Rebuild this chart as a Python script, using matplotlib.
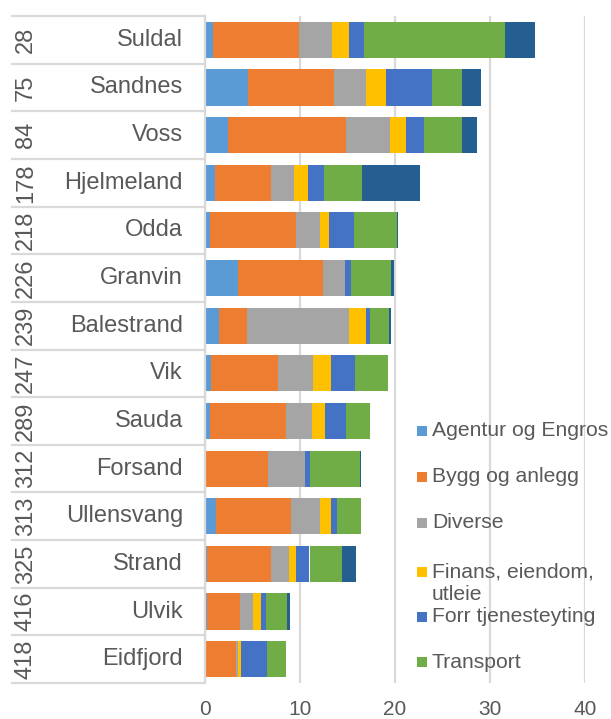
import matplotlib
matplotlib.use("Agg")
import matplotlib.pyplot as plt
import matplotlib.transforms as mtransforms
from matplotlib.patches import Rectangle
import numpy as np

plt.rcParams['font.family'] = ['Liberation Sans', 'DejaVu Sans']

ranks = ["28", "75", "84", "178", "218", "226", "239", "247", "289", "312", "313", "325", "416", "418"]
municipalities = ["Suldal", "Sandnes", "Voss", "Hjelmeland", "Odda", "Granvin", "Balestrand",
                  "Vik", "Sauda", "Forsand", "Ullensvang", "Strand", "Ulvik", "Eidfjord"]

series_names = ["Agentur og Engros", "Bygg og anlegg", "Diverse", "Finans, eiendom, utleie",
                "Forr tjenesteyting", "Transport", "Annet"]

agentur =    [0.88, 4.56, 2.41, 1.02, 0.49, 3.51, 1.51, 0.65, 0.57, 0.00, 1.19, 0.25, 0.25, 0.00]
bygg =       [9.05, 8.98, 12.44, 5.97, 9.12, 8.91, 2.95, 7.08, 7.94, 6.67, 7.81, 6.66, 3.47, 3.30]
diverse =    [3.47, 3.40, 4.66, 2.37, 2.45, 2.32, 10.67, 3.64, 2.78, 3.86, 3.07, 1.88, 1.31, 0.14]
finans =     [1.75, 2.14, 1.64, 1.47, 0.98, 0.00, 1.82, 1.88, 1.35, 0.00, 1.18, 0.82, 0.90, 0.32]
forr =       [1.58, 4.81, 1.92, 1.72, 2.62, 0.60, 0.46, 2.58, 2.21, 0.56, 0.66, 1.39, 0.53, 2.77]
transport =  [14.80, 3.16, 4.01, 4.00, 4.50, 4.21, 2.00, 3.39, 2.53, 5.19, 2.49, 3.44, 2.21, 2.04]
annet =      [3.16, 2.04, 1.51, 6.10, 0.20, 0.39, 0.14, 0.00, 0.00, 0.14, 0.00, 1.43, 0.29, 0.00]

colors = ["#5B9BD5", "#ED7D31", "#A5A5A5", "#FFC000", "#4472C4", "#70AD47", "#255E91"]
x_ticks = [0, 10, 20, 30, 40]

W, H = 611, 719
fig = plt.figure(figsize=(W / 100, H / 100), dpi=100)
ax_left, ax_right, ax_top, ax_bottom = 205, 585, 16, 683
ax = fig.add_axes([ax_left / W, 1 - ax_bottom / H, (ax_right - ax_left) / W, (ax_bottom - ax_top) / H])

text_color = "#595959"
grid_color = "#D9D9D9"

y = np.arange(len(municipalities))
left = np.zeros(len(municipalities))
for vals, c, name in zip([agentur, bygg, diverse, finans, forr, transport, annet], colors, series_names):
    vals = np.array(vals)
    ax.barh(y, vals, left=left, height=0.76, color=c, linewidth=0, label=name, zorder=3)
    left += vals

ax.set_xlim(0, 40)
ax.set_ylim(len(municipalities) - 0.5, -0.5)
ax.set_xticks(x_ticks)
ax.set_xticklabels([str(t) for t in x_ticks], fontsize=15, color=text_color)
ax.tick_params(axis='x', length=0, pad=12)
ax.set_yticks([])
ax.grid(axis='x', color=grid_color, linewidth=1.6, zorder=0)
for s in ["top", "right", "bottom"]:
    ax.spines[s].set_visible(False)
ax.spines["left"].set_color(grid_color)
ax.spines["left"].set_linewidth(1.6)
ax.spines["left"].set_zorder(4)

# category labels (two-level axis)
trans = mtransforms.blended_transform_factory(ax.transAxes, ax.transData)
span = ax_right - ax_left
x_line_start = (12 - ax_left) / span
for i in range(len(municipalities) + 1):
    ax.plot([x_line_start, 0], [i - 0.5, i - 0.5], transform=trans, color=grid_color,
            linewidth=1.6, clip_on=False, zorder=2)
for i, (r, m) in enumerate(zip(ranks, municipalities)):
    ax.text((183 - ax_left) / span, i, m, transform=trans, ha='right', va='center',
            fontsize=17, color=text_color)
    ax.text((26 - ax_left) / span, i, r, transform=trans, ha='center', va='center',
            rotation=90, fontsize=17, color=text_color, rotation_mode='anchor')

# legend (manual, first six series)
legend_rows = [(431, ["Agentur og Engros"]), (477, ["Bygg og anlegg"]), (523, ["Diverse"]),
               (572, ["Finans, eiendom,", "utleie"]), (617, ["Forr tjenesteyting"]), (662, ["Transport"])]
for (yy, lines), c in zip(legend_rows, colors[:6]):
    fig.add_artist(Rectangle((417 / W, 1 - (yy + 5) / H), 10 / W, 10 / H,
                             transform=fig.transFigure, color=c, linewidth=0))
    for k, line in enumerate(lines):
        fig.text(432 / W, 1 - (yy + k * 23) / H, line, ha='left', va='center',
                 fontsize=15.2, color=text_color)

fig.savefig("out.png", dpi=100)
